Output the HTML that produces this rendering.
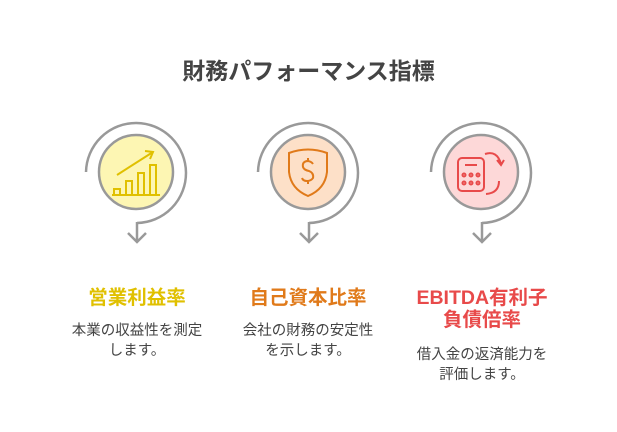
<!DOCTYPE html>
<html><head><meta charset="utf-8"><style>
body{margin:0;width:617px;height:432px;background:#fff;position:relative;overflow:hidden;font-family:"Liberation Sans","Noto Sans CJK JP",sans-serif}
.t{position:absolute;text-align:center;white-space:nowrap}
.h{font-weight:bold;font-size:19.5px;line-height:22px}
.b{font-size:14.5px;line-height:20px;color:#444}
</style></head><body>
<div class="t" style="left:0;width:617px;top:56px;font-size:23px;font-weight:bold;color:#444;line-height:30px">財務パフォーマンス指標</div>
<svg width="617" height="432" style="position:absolute;left:0;top:0" fill="none">
<g stroke="#999" stroke-width="2.5" fill="none">
<path d="M86,172 A50,50 0 1 1 137,223"/>
<path d="M137,222 V242 M128,233 L137,242 L146,233"/>
</g>
<circle cx="136" cy="172" r="37" fill="#fdf6b3" stroke="#999" stroke-width="2.5"/>
<g stroke="#e0c000" stroke-width="2" fill="none">
<path d="M112,195 H160"/><rect x="114" y="189" width="6" height="6"/><rect x="126" y="181" width="6" height="14"/><rect x="138" y="173" width="6" height="22"/><rect x="150" y="165" width="6" height="30"/>
<path d="M117,175 L153,152 M145,151 L153,152 L150,159"/>
</g>
<g stroke="#999" stroke-width="2.5" fill="none">
<path d="M258,172 A50,50 0 1 1 309,223"/>
<path d="M309,222 V242 M300,233 L309,242 L318,233"/>
</g>
<circle cx="308" cy="172" r="37" fill="#fde0c8" stroke="#999" stroke-width="2.5"/>
<g stroke="#e07a1a" stroke-width="2" fill="none">
<path d="M289,153 Q308,146 327,153 V172 Q325,189 308,196 Q291,189 289,172 Z"/>
<path d="M313,164 Q311,161 307,161 Q302,162 303,167 Q304,170 309,171 Q314,173 313,178 Q311,181 307,181 Q303,181 302,178 M308,158 V161 M308,181 V184"/>
</g>
<g stroke="#999" stroke-width="2.5" fill="none">
<path d="M431,172 A50,50 0 1 1 482,223"/>
<path d="M482,222 V242 M473,233 L482,242 L491,233"/>
</g>
<circle cx="481" cy="172" r="37" fill="#fdd8d8" stroke="#999" stroke-width="2.5"/>
<g stroke="#e84a4a" stroke-width="2" fill="none">
<rect x="458" y="158" width="26" height="33" rx="4"/><path d="M465,165 H477"/>
<circle cx="464" cy="175" r="1.5"/><circle cx="471" cy="175" r="1.5"/><circle cx="478" cy="175" r="1.5"/>
<circle cx="464" cy="183" r="1.5"/><circle cx="471" cy="183" r="1.5"/><circle cx="478" cy="183" r="1.5"/>
<path d="M485,154 Q497,150 501,164 M497,160 L501,165 L504,160 M499,181 Q499,193 486,194"/>
</g>
</svg>
<div class="t h" style="left:37px;width:200px;top:287px;color:#e0c000">営業利益率</div>
<div class="t b" style="left:37px;width:200px;top:321px">本業の収益性を測定<br>します。</div>
<div class="t h" style="left:208px;width:200px;top:287px;color:#e07a1a">自己資本比率</div>
<div class="t b" style="left:208px;width:200px;top:321px">会社の財務の安定性<br>を示します。</div>
<div class="t h" style="left:382px;width:200px;top:287px;color:#e84a4a">EBITDA有利子<br>負債倍率</div>
<div class="t b" style="left:382px;width:200px;top:345px">借入金の返済能力を<br>評価します。</div>
</body></html>
